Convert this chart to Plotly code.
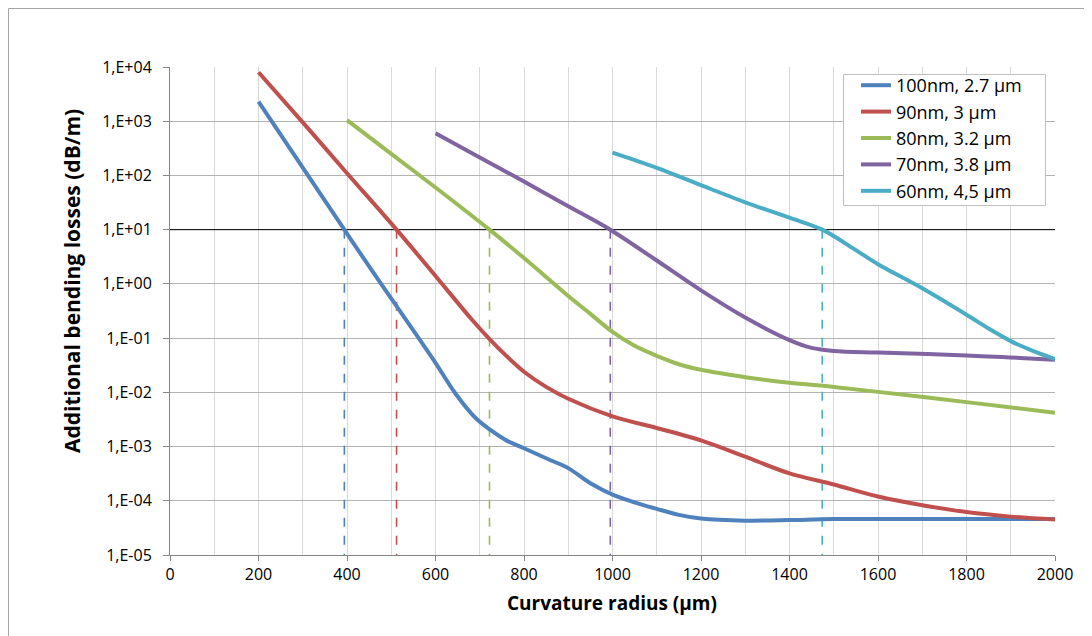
import plotly.graph_objects as go

# ---- data ----
series_names = ["100nm, 2.7 µm", "90nm, 3 µm", "80nm, 3.2 µm", "70nm, 3.8 µm", "60nm, 4,5 µm"]
series_colors = ["#4F81BD", "#C0504D", "#9BBB59", "#8064A2", "#4BACC6"]

blue_x = [200, 300, 394, 450, 510, 560, 600, 645, 690, 725, 760, 800, 860, 900, 950, 1000, 1070, 1100, 1150, 1200, 1300, 1400, 1500, 2000]
blue_y = [2300, 140, 10, 2.1, 0.41, 0.105, 0.035, 0.0095, 0.0034, 0.002, 0.0013, 0.00093, 0.00056, 0.0004, 0.00021, 0.00013, 8.3e-5, 7.1e-5, 5.5e-5, 4.7e-5, 4.3e-5, 4.4e-5, 4.6e-5, 4.6e-5]

red_x = [200, 300, 400, 512, 600, 680, 720, 760, 800, 850, 900, 1000, 1100, 1200, 1300, 1400, 1500, 1600, 1700, 1800, 1900, 2000]
red_y = [8000, 950, 110, 10, 1.4, 0.23, 0.1, 0.047, 0.024, 0.0126, 0.0076, 0.0036, 0.0022, 0.0013, 6.5e-4, 3.2e-4, 2.0e-4, 1.2e-4, 8.3e-5, 6.2e-5, 5.1e-5, 4.5e-5]

green_x = [400, 500, 600, 722, 800, 900, 950, 1000, 1050, 1100, 1150, 1200, 1300, 1400, 1500, 1600, 1800, 2000]
green_y = [1050, 250, 60, 10, 3.0, 0.6, 0.28, 0.13, 0.072, 0.047, 0.033, 0.026, 0.019, 0.015, 0.0126, 0.0102, 0.0066, 0.0042]

purple_x = [600, 700, 800, 900, 995, 1100, 1200, 1300, 1400, 1450, 1500, 1600, 1800, 2000]
purple_y = [600, 215, 77, 27, 10, 2.7, 0.76, 0.24, 0.092, 0.066, 0.058, 0.054, 0.048, 0.04]

cyan_x = [1000, 1100, 1200, 1300, 1400, 1474, 1550, 1600, 1700, 1800, 1850, 1900, 1950, 2000]
cyan_y = [263, 138, 66, 32, 16.6, 10, 4.2, 2.3, 0.83, 0.27, 0.15, 0.088, 0.058, 0.041]

threshold = 10
crossing_x = [394, 512, 722, 995, 1474]

y_tickvals = [1e-5, 1e-4, 1e-3, 1e-2, 1e-1, 1e0, 1e1, 1e2, 1e3, 1e4]
y_ticktext = ["1,E-05", "1,E-04", "1,E-03", "1,E-02", "1,E-01", "1,E+00", "1,E+01", "1,E+02", "1,E+03", "1,E+04"]

x_title = "Curvature radius (µm)"
y_title = "Additional bending losses (dB/m)"

FONT = "'Open Sans', Lato, sans-serif"

fig = go.Figure()

all_x = [blue_x, red_x, green_x, purple_x, cyan_x]
all_y = [blue_y, red_y, green_y, purple_y, cyan_y]

# threshold line
fig.add_trace(go.Scatter(x=[0, 2000], y=[threshold, threshold], mode="lines",
                         line=dict(color="black", width=1), showlegend=False, hoverinfo="skip"))

# dashed verticals
for cx, col in zip(crossing_x, series_colors):
    fig.add_trace(go.Scatter(x=[cx, cx], y=[threshold, y_tickvals[0]], mode="lines",
                             line=dict(color=col, width=1.6, dash="dash"),
                             showlegend=False, hoverinfo="skip"))

for name, col, xs, ys in zip(series_names, series_colors, all_x, all_y):
    fig.add_trace(go.Scatter(x=xs, y=ys, mode="lines", name=name,
                             line=dict(color=col, width=4, shape="spline", smoothing=0.9)))

L, R, T, B = 162, 37, 59, 81
W, H = 1084, 628
pw, ph = W - L - R, H - T - B


def px(fx):
    return (fx - L) / pw


def py(fy):
    return (ph + T - fy) / ph


fig.update_layout(
    width=W, height=H,
    margin=dict(l=L, r=R, t=T, b=B),
    paper_bgcolor="white", plot_bgcolor="white",
    font=dict(family=FONT, color="black", size=16),
    legend=dict(x=px(848), y=py(59), xanchor="left", yanchor="top",
                bgcolor="rgba(0,0,0,0)", borderwidth=0,
                font=dict(size=18), tracegroupgap=0, itemwidth=30),
    shapes=[
        dict(type="rect", xref="paper", yref="paper",
             x0=px(0.5), x1=1.2, y0=-0.3, y1=py(0.5),
             line=dict(color="#A6A6A6", width=1), layer="below"),
        dict(type="rect", xref="paper", yref="paper",
             x0=px(835.5), x1=px(1037.5), y0=py(197.5), y1=py(66.5),
             line=dict(color="#BFBFBF", width=1), fillcolor="white", layer="above"),
    ],
    annotations=[
        dict(text="<b>" + y_title + "</b>", xref="paper", yref="paper",
             x=px(64), y=py(273), xanchor="center", yanchor="middle",
             textangle=-90, showarrow=False, font=dict(size=21)),
        dict(text="<b>" + x_title + "</b>", xref="paper", yref="paper",
             x=px(604), y=py(595), xanchor="center", yanchor="middle",
             showarrow=False, font=dict(size=19)),
    ],
)

fig.update_xaxes(range=[0, 2000], dtick=200, tick0=0,
                 showgrid=True, gridcolor="#D9D9D9", gridwidth=1,
                 minor=dict(dtick=100, showgrid=True, gridcolor="#D9D9D9", gridwidth=1),
                 showline=True, linecolor="#868686", linewidth=1,
                 ticks="outside", ticklen=5, tickcolor="#868686",
                 zeroline=False, tickfont=dict(size=16))

fig.update_yaxes(type="log", range=[-5, 4], tickvals=y_tickvals, ticktext=y_ticktext,
                 showgrid=True, gridcolor="#B3B3B3", gridwidth=1,
                 showline=True, linecolor="#868686", linewidth=1,
                 ticks="outside", ticklen=6, tickcolor="#868686", ticklabelstandoff=8,
                 zeroline=False, tickfont=dict(size=16))

fig.write_html("out.html")
